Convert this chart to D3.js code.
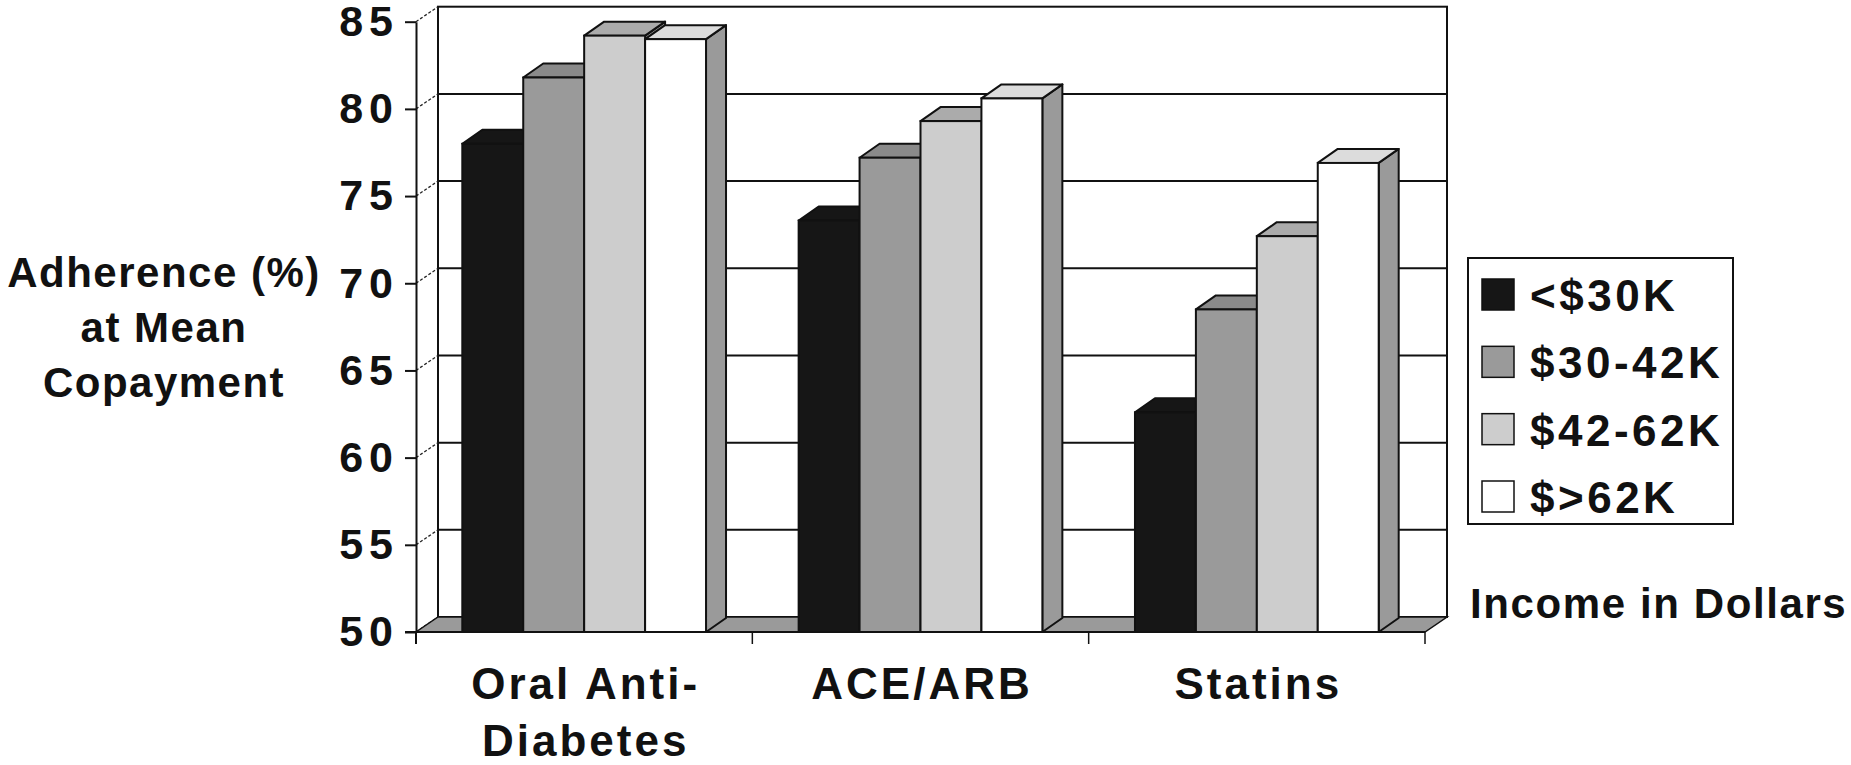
<!DOCTYPE html>
<html>
<head>
<meta charset="utf-8">
<script src="https://cdn.jsdelivr.net/npm/d3@7"></script>
<style>
  html, body { margin: 0; padding: 0; background: #fff; }
  svg { display: block; }
  text { font-family: "Liberation Sans", Arial, sans-serif; font-weight: bold; fill: #111; }
</style>
</head>
<body>
<svg id="chart" width="1851" height="765"></svg>
<script>
// ---------- DATA ----------
const categories = ["Oral Anti-Diabetes", "ACE/ARB", "Statins"];
const categoryLabelLines = [["Oral Anti-", "Diabetes"], ["ACE/ARB"], ["Statins"]];
const seriesNames = ["<$30K", "$30-42K", "$42-62K", "$>62K"];
const incomeUnder30K = [78.0, 73.6, 62.6];
const income30to42K = [81.8, 77.2, 68.5];
const income42to62K = [84.2, 79.3, 72.7];
const incomeOver62K = [84.0, 80.6, 76.9];
const yTicks = [50, 55, 60, 65, 70, 75, 80, 85];
const yTitleLines = ["Adherence (%)", "at Mean", "Copayment"];
const legendTitle = "Income in Dollars";

const seriesValues = [incomeUnder30K, income30to42K, income42to62K, incomeOver62K];
const frontFill = ["#161616", "#9a9a9a", "#cdcdcd", "#ffffff"];
const topFill   = ["#161616", "#8a8a8a", "#ababab", "#dcdcdc"];
const sideFill  = ["#0e0e0e", "#7a7a7a", "#9a9a9a", "#9a9a9a"];

// ---------- LAYOUT ----------
const svg = d3.select("#chart");
const left = 416, right = 1425, bottom = 632;
const depthX = 22, depthY = 15;           // floor / wall depth
const barDX = 20, barDY = 14;             // bar depth

const y = d3.scaleLinear().domain([50, 85]).range([bottom, 21.7]);
const x = d3.scaleBand().domain(categories).range([left, right]).paddingInner(0).paddingOuter(0);
const xs = d3.scaleBand().domain(seriesNames).range([0, x.bandwidth()]).paddingInner(0).paddingOuter(0.76);

const g = svg.append("g");

// Back wall
const wallTop = y(85) - depthY, wallBottom = bottom - depthY;
g.append("rect")
  .attr("x", left + depthX).attr("y", wallTop)
  .attr("width", right - left).attr("height", wallBottom - wallTop)
  .attr("fill", "#fff").attr("stroke", "#111").attr("stroke-width", 2);

// Back-wall gridlines
g.selectAll("line.grid").data(yTicks.filter(d => d > 50 && d < 85)).join("line")
  .attr("class", "grid")
  .attr("x1", left + depthX).attr("x2", right + depthX)
  .attr("y1", d => y(d) - depthY).attr("y2", d => y(d) - depthY)
  .attr("stroke", "#111").attr("stroke-width", 2);

// Side-wall gridlines (slanted)
g.selectAll("line.side").data(yTicks).join("line")
  .attr("class", "side")
  .attr("x1", left).attr("x2", left + depthX)
  .attr("y1", d => y(d)).attr("y2", d => y(d) - depthY)
  .attr("stroke", "#222").attr("stroke-width", 1.3).attr("stroke-dasharray", "3,2");

// Floor
g.append("path")
  .attr("d", `M${left},${bottom} L${right},${bottom} L${right + depthX},${bottom - depthY} L${left + depthX},${bottom - depthY} Z`)
  .attr("fill", "#9a9a9a").attr("stroke", "#111").attr("stroke-width", 1.5);

// Bars
const bars = [];
categories.forEach((c, ci) => {
  seriesNames.forEach((s, si) => {
    bars.push({ c, s, ci, si, v: seriesValues[si][ci] });
  });
});

const barG = g.selectAll("g.bar").data(bars).join("g").attr("class", "bar");
barG.each(function (d) {
  const gg = d3.select(this);
  const x0 = x(d.c) + xs(d.s);
  const w = xs.bandwidth();
  const x1 = x0 + w;
  const yt = y(d.v);
  // right side face
  gg.append("path")
    .attr("d", `M${x1},${bottom} L${x1},${yt} L${x1 + barDX},${yt - barDY} L${x1 + barDX},${bottom - barDY} Z`)
    .attr("fill", sideFill[d.si]).attr("stroke", "#111").attr("stroke-width", 2).attr("stroke-linejoin", "round");
  // top face
  gg.append("path")
    .attr("d", `M${x0},${yt} L${x1},${yt} L${x1 + barDX},${yt - barDY} L${x0 + barDX},${yt - barDY} Z`)
    .attr("fill", topFill[d.si]).attr("stroke", "#111").attr("stroke-width", 2).attr("stroke-linejoin", "round");
  // front face
  gg.append("rect")
    .attr("x", x0).attr("y", yt).attr("width", w).attr("height", bottom - yt)
    .attr("fill", frontFill[d.si]).attr("stroke", "#111").attr("stroke-width", 2);
});

// Front floor edge
g.append("line").attr("x1", left - 11).attr("x2", right).attr("y1", bottom).attr("y2", bottom)
  .attr("stroke", "#111").attr("stroke-width", 2);

// Y axis
const yAxis = d3.axisLeft(y).tickValues(yTicks).tickSize(11).tickSizeOuter(0).tickPadding(10);
const ay = svg.append("g").attr("transform", `translate(${left},0)`).call(yAxis);
ay.select(".domain").attr("stroke", "#111").attr("stroke-width", 2);
ay.selectAll(".tick line").attr("stroke", "#111").attr("stroke-width", 2);
ay.selectAll(".tick text")
  .attr("font-size", 43).attr("font-family", "Liberation Sans, Arial, sans-serif")
  .attr("font-weight", "bold").attr("fill", "#111").attr("letter-spacing", 6).attr("dx", 4);
svg.append("line").attr("x1", left).attr("x2", left).attr("y1", bottom).attr("y2", bottom + 12)
  .attr("stroke", "#111").attr("stroke-width", 2);

// Category ticks
const boundaries = categories.map(c => x(c)).concat([right]);
svg.selectAll("line.ctick").data(boundaries).join("line")
  .attr("class", "ctick")
  .attr("x1", d => d).attr("x2", d => d).attr("y1", bottom).attr("y2", bottom + 12)
  .attr("stroke", "#111").attr("stroke-width", 1.5);

// Category labels
categories.forEach((c, ci) => {
  const cx = x(c) + x.bandwidth() / 2;
  categoryLabelLines[ci].forEach((line, li) => {
    svg.append("text")
      .attr("x", cx + 1.5).attr("y", 699 + li * 57)
      .attr("text-anchor", "middle")
      .attr("font-size", 44).attr("letter-spacing", 3)
      .text(line);
  });
});

// Y title
yTitleLines.forEach((line, i) => {
  svg.append("text")
    .attr("x", 164).attr("y", 287 + i * 55)
    .attr("text-anchor", "middle")
    .attr("font-size", 42).attr("letter-spacing", 1.5)
    .text(line);
});

// Legend
const lg = svg.append("g");
lg.append("rect").attr("x", 1468).attr("y", 258).attr("width", 265).attr("height", 266)
  .attr("fill", "#fff").attr("stroke", "#111").attr("stroke-width", 2);
const legendRow = d3.scalePoint().domain(seriesNames).range([279, 481]);
seriesNames.forEach((s, i) => {
  lg.append("rect").attr("x", 1482).attr("y", legendRow(s)).attr("width", 32).attr("height", 31)
    .attr("fill", frontFill[i]).attr("stroke", "#111").attr("stroke-width", 1.5);
  lg.append("text").attr("x", 1530).attr("y", legendRow(s) + 32)
    .attr("font-size", 44).attr("letter-spacing", 3.5).text(s);
});

svg.append("text").attr("x", 1470).attr("y", 618)
  .attr("font-size", 42).attr("letter-spacing", 1.6).text(legendTitle);
</script>
</body>
</html>
